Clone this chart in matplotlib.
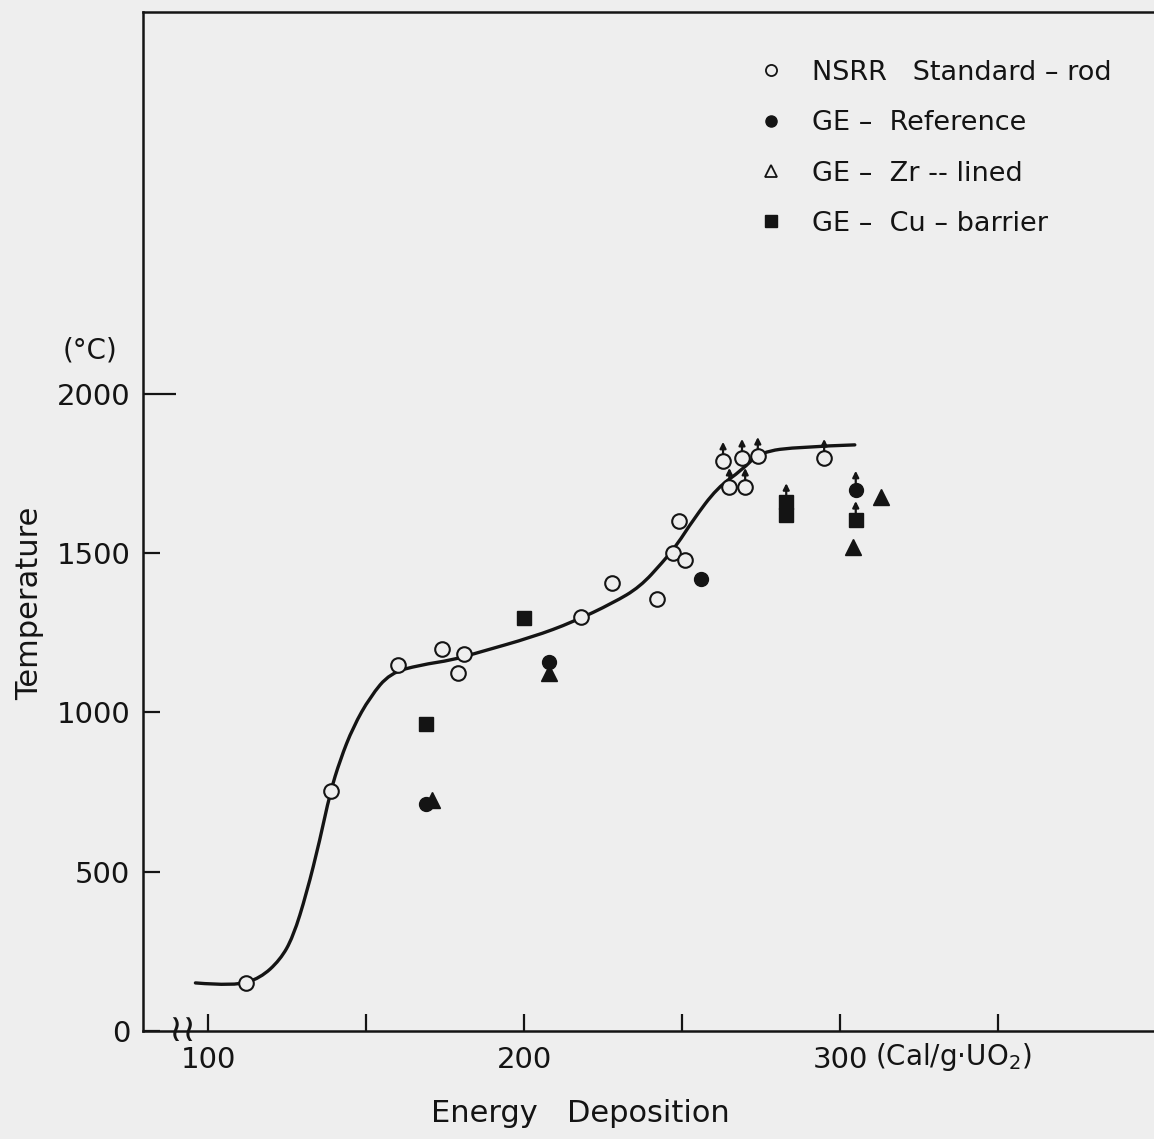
import matplotlib.pyplot as plt
from matplotlib.lines import Line2D
from matplotlib.path import Path
from matplotlib.patches import PathPatch
from matplotlib.transforms import offset_copy

# NSRR standard-rod (open circles)
nsrr_x = [112, 139, 160, 174, 179, 181, 218, 228, 242, 247, 249, 251,
          263, 265, 269, 270, 274, 295]
nsrr_y = [150, 755, 1150, 1200, 1125, 1185, 1300, 1405, 1355, 1500, 1600, 1480,
          1790, 1708, 1799, 1708, 1805, 1799]
nsrr_up = [False] * 12 + [True] * 6

# GE - reference (filled circles)
ref_x = [169, 208, 256, 305]
ref_y = [713, 1159, 1419, 1699]
ref_up = [False, False, False, True]

# GE - Zr-lined (triangles)
zr_x = [171, 208, 304, 313]
zr_y = [725, 1124, 1520, 1677]

# GE - Cu-barrier (squares)
cu_x = [169, 200, 283, 283, 305]
cu_y = [964, 1297, 1620, 1660, 1604]
cu_up = [False, False, False, True, True]

# hand-drawn trend curve
curve_x = [96, 108.5, 116.5, 122.8, 126.9, 131.2, 135.4, 138.6, 141.8, 145.9,
           151.3, 157.6, 167.1, 177.5, 185.1, 202.8, 215.5, 228.2, 236.7, 244,
           248.4, 253.5, 261.1, 269, 274.7, 287.3, 304.7]
curve_y = [151, 141, 166, 223, 295, 433, 600, 747, 851, 954,
           1049, 1124, 1149, 1165, 1187, 1237, 1284, 1344, 1394, 1473,
           1526, 1604, 1705, 1761, 1818, 1834, 1840]

ytick_vals = [0, 500, 1000, 1500, 2000]
xtick_vals = [100, 150, 200, 250, 300, 350]
xtick_text = ['100', '', '200', '', '300', '']

legend_text = ['NSRR   Standard – rod', 'GE –  Reference', 'GE –  Zr -- lined',
               'GE –  Cu – barrier']

INK = '#141414'
BG = '#eeeeee'
plt.rcParams['font.family'] = ['DejaVu Sans']

fig = plt.figure(figsize=(11.54, 11.39), dpi=100, facecolor=BG)
ax = fig.add_axes([0.1239, 0.0948, 0.8761, 0.8947], facecolor=BG)

# smooth curve: read points used as quadratic bezier controls
pts = list(zip(curve_x, curve_y))
verts = [pts[0]]
codes = [Path.MOVETO]
for i in range(1, len(pts) - 2):
    mid = ((pts[i][0] + pts[i + 1][0]) / 2, (pts[i][1] + pts[i + 1][1]) / 2)
    verts += [pts[i], mid]
    codes += [Path.CURVE3, Path.CURVE3]
verts += [pts[-2], pts[-1]]
codes += [Path.CURVE3, Path.CURVE3]
ax.add_patch(PathPatch(Path(verts, codes), fill=False, ec=INK, lw=2.4,
                       capstyle='round', zorder=2))

ax.plot(nsrr_x, nsrr_y, 'o', ms=10.5, mfc=BG, mec=INK, mew=1.5, zorder=3)
ax.plot(ref_x, ref_y, 'o', ms=10, mfc=INK, mec=INK, zorder=3)
ax.plot(zr_x, zr_y, '^', ms=12, mfc=INK, mec=INK, zorder=3)
ax.plot(cu_x, cu_y, 's', ms=10, mfc=INK, mec=INK, zorder=3)

# small up-arrows meaning "higher than"
def up_arrow(x, y):
    ax.annotate('', xy=(x, y), xycoords=offset_copy(ax.transData, fig=fig, y=19, units='dots'),
                xytext=(x, y), textcoords=offset_copy(ax.transData, fig=fig, y=7, units='dots'),
                arrowprops=dict(arrowstyle='-|>', lw=1.6, color=INK, mutation_scale=9,
                                shrinkA=0, shrinkB=0), zorder=4)

for xs, ys, ups in [(nsrr_x, nsrr_y, nsrr_up), (ref_x, ref_y, ref_up), (cu_x, cu_y, cu_up)]:
    for x, y, u in zip(xs, ys, ups):
        if u:
            up_arrow(x, y)

ax.set_xlim(79.4, 399.4)
ax.set_ylim(0, 3199)

for s in ['left', 'bottom', 'top']:
    ax.spines[s].set_linewidth(1.8)
    ax.spines[s].set_color(INK)
ax.spines['right'].set_visible(False)

ax.set_yticks(ytick_vals)
ax.set_yticklabels([str(v) for v in ytick_vals])
ax.set_xticks(xtick_vals)
ax.set_xticklabels(xtick_text)
ax.tick_params(axis='y', direction='in', length=12, width=1.6, pad=9,
               labelsize=21, colors=INK)
ax.tick_params(axis='x', direction='in', length=12, width=1.6, pad=11,
               labelsize=21, colors=INK)
ax.yaxis.get_major_ticks()[-1].tick1line.set_markersize(24)

# axis break on the energy axis
ax.text(91.8, 0, '≀≀', fontsize=27, ha='center', va='center', color=INK, zorder=5)

ax.text(-0.025, 0.668, '(°C)', transform=ax.transAxes, fontsize=20, ha='right',
        va='center', color=INK)
ax.text(336, -80, '(Cal/g·UO$_2$)', fontsize=20, ha='center', va='center',
        color=INK, clip_on=False)
ax.set_ylabel('Temperature', fontsize=22, color=INK)
ax.yaxis.set_label_coords(-0.098, 0.42)
ax.set_xlabel('Energy   Deposition', fontsize=22, color=INK)
ax.xaxis.set_label_coords(0.433, -0.067)

# legend drawn by hand
handles = [Line2D([], [], ls='', marker='o', ms=8, mfc=BG, mec=INK, mew=1.3),
           Line2D([], [], ls='', marker='o', ms=8, mfc=INK, mec=INK),
           Line2D([], [], ls='', marker='^', ms=8, mfc=BG, mec=INK, mew=1.3),
           Line2D([], [], ls='', marker='s', ms=8, mfc=INK, mec=INK)]
leg = ax.legend(handles, legend_text, loc='upper left', bbox_to_anchor=(0.584, 0.977),
                frameon=False, fontsize=19.5, handlelength=1.0, handletextpad=1.0,
                labelspacing=0.9, labelcolor=INK)

fig.savefig('out.png', dpi=100, facecolor=BG)
